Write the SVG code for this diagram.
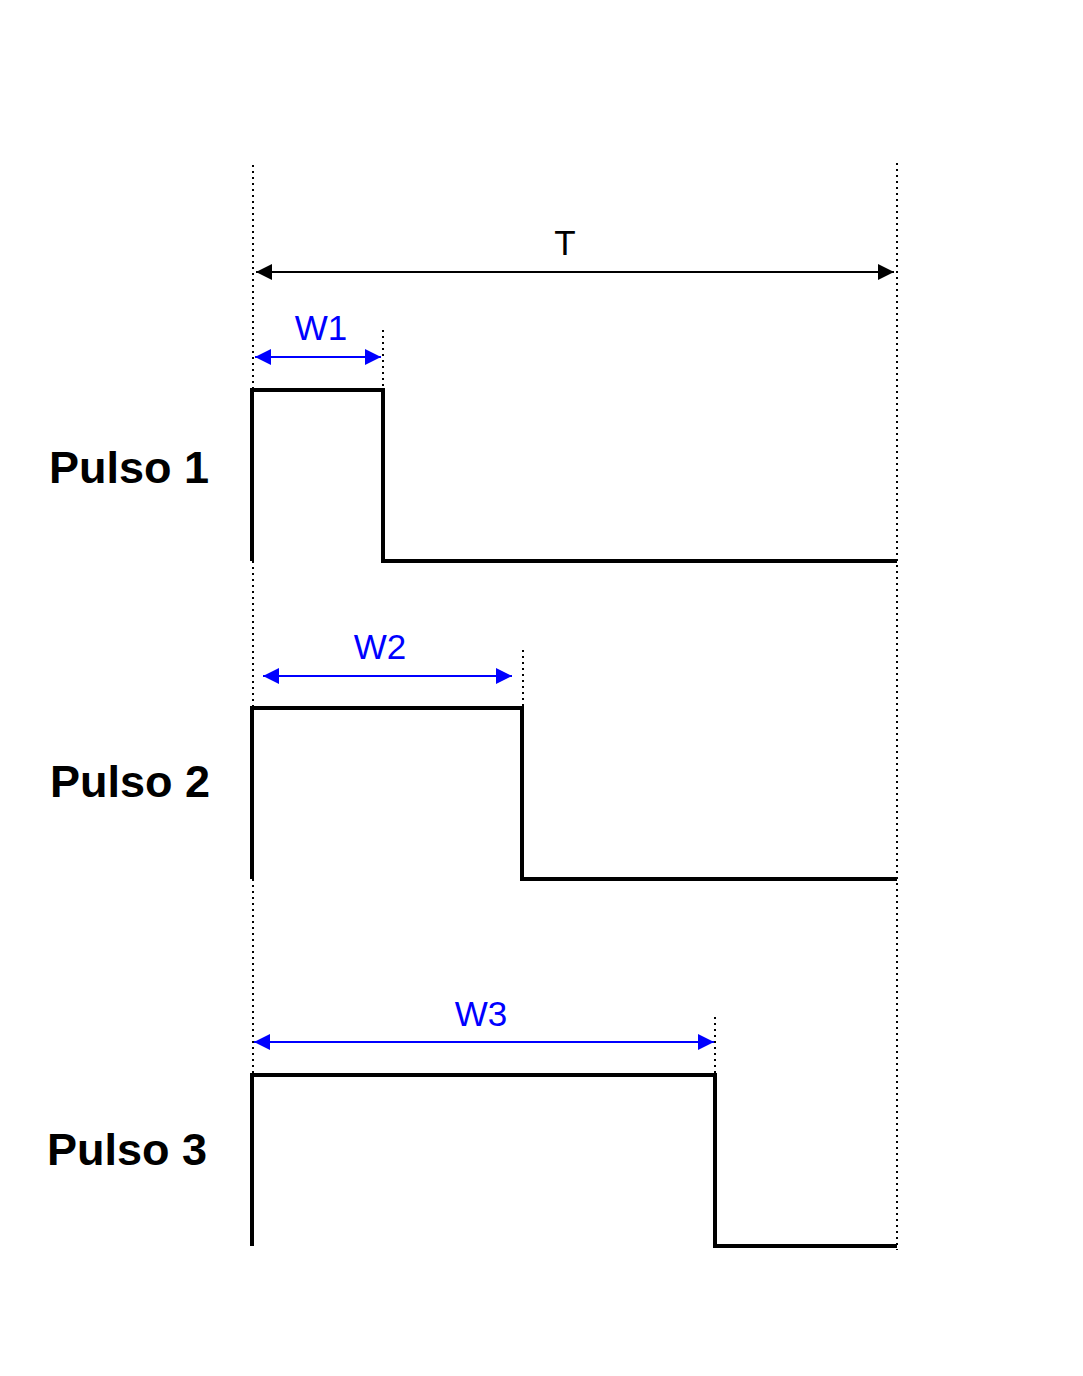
<svg xmlns="http://www.w3.org/2000/svg" width="1083" height="1376" viewBox="0 0 1083 1376">
<style>
.dot{stroke:#000;stroke-width:2;stroke-dasharray:2,4;fill:none}
.pulse{stroke:#000;stroke-width:4;fill:none;stroke-linejoin:miter}
.lbl{font-family:"Liberation Sans",Arial,sans-serif;font-weight:bold;font-size:45px;fill:#000}
.dim{font-family:"Liberation Sans",Arial,sans-serif;font-size:35px;text-anchor:middle}
.blk{stroke:#000;stroke-width:2}
.blu{stroke:#0000ff;stroke-width:2}
</style>
<defs>
<marker id="ak" viewBox="0 0 10 10" refX="10" refY="5" markerWidth="16" markerHeight="16" markerUnits="userSpaceOnUse" orient="auto-start-reverse"><path d="M0,0L10,5L0,10Z" fill="#000"/></marker>
<marker id="ab" viewBox="0 0 10 10" refX="10" refY="5" markerWidth="16" markerHeight="16" markerUnits="userSpaceOnUse" orient="auto-start-reverse"><path d="M0,0L10,5L0,10Z" fill="#0000ff"/></marker>
</defs>
<g id="guides">
<line class="dot" x1="253" y1="165" x2="253" y2="1245"/>
<line class="dot" x1="897" y1="163" x2="897" y2="1250"/>
<line class="dot" x1="383" y1="330" x2="383" y2="390"/>
<line class="dot" x1="523" y1="650" x2="523" y2="708"/>
<line class="dot" x1="715" y1="1017" x2="715" y2="1075"/>
</g>
<g id="connectors">
<line class="blk" x1="256" y1="272" x2="894" y2="272" marker-start="url(#ak)" marker-end="url(#ak)"/>
<line class="blu" x1="255" y1="357" x2="381" y2="357" marker-start="url(#ab)" marker-end="url(#ab)"/>
<line class="blu" x1="263" y1="676" x2="512" y2="676" marker-start="url(#ab)" marker-end="url(#ab)"/>
<line class="blu" x1="254" y1="1042" x2="714" y2="1042" marker-start="url(#ab)" marker-end="url(#ab)"/>
</g>
<g id="dim-labels">
<text class="dim" x="565" y="255" fill="#000">T</text>
<text class="dim" x="321" y="340" fill="#0000ff">W1</text>
<text class="dim" x="380" y="659" fill="#0000ff">W2</text>
<text class="dim" x="481" y="1026" fill="#0000ff">W3</text>
</g>
<g id="pulso1">
<path class="pulse" d="M252,561V390H383V561H897"/>
<text class="lbl" x="49" y="483">Pulso 1</text>
</g>
<g id="pulso2">
<path class="pulse" d="M252,879V708H522V879H897"/>
<text class="lbl" x="50" y="797">Pulso 2</text>
</g>
<g id="pulso3">
<path class="pulse" d="M252,1246V1075H715V1246H897"/>
<text class="lbl" x="47" y="1165">Pulso 3</text>
</g>
</svg>
